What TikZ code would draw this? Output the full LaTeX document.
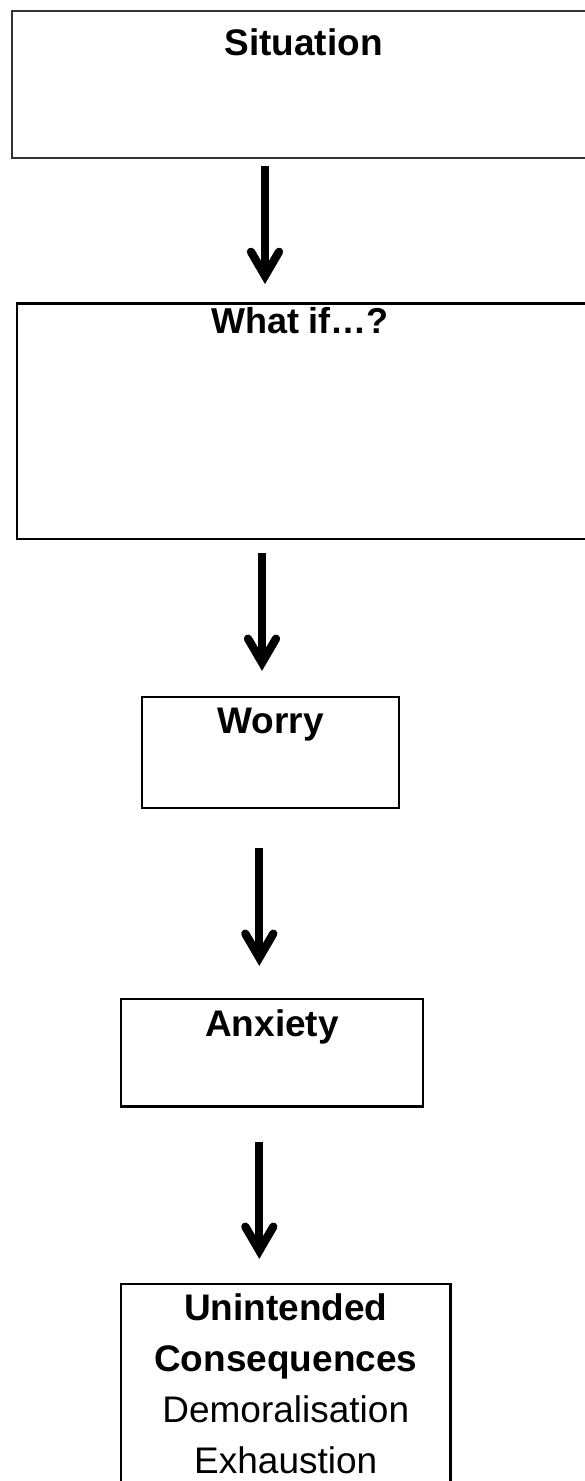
\documentclass[tikz,border=0pt]{standalone}
\usepackage{fontspec}
\setmainfont{Liberation Sans}
\usetikzlibrary{calc}

\tikzset{
  box/.style={draw=black, line width=2.7pt, rectangle, inner sep=0pt},
  topbox/.style={box, draw=black!80, line width=2pt},
  title/.style={font=\fontsize{37}{51}\selectfont\bfseries, anchor=base, inner sep=0pt},
  shaftline/.style={draw=black, line width=8.3pt, line cap=butt},
  chevron/.style={draw=black, line width=8.3pt, line cap=round, line join=miter},
}

% thick downward arrow: straight shaft ending in an open chevron head
\newcommand\flowarrow[2]{%
  \draw[shaftline] (#1) -- (#2);
  \draw[chevron] ($(#2)+(-14,-24)$) -- (#2) -- ($(#2)+(14,-24)$);
}

\begin{document}
\begin{tikzpicture}[x=1pt,y=-1pt]
\useasboundingbox (0,0) rectangle (584,1481);
\fill[white] (0,0) rectangle (584,1481);

% boxes
\node[topbox, minimum width=585pt, minimum height=146.5pt] (s) at (304.5,84.25) {};
\node[box, line width=2.4pt, minimum width=569pt, minimum height=235.5pt] (q) at (301.5,421.25) {};
\node[box, minimum width=257pt, minimum height=111pt] (w) at (270.5,752.5) {};
\node[box, minimum width=302pt, minimum height=107.5pt] (a) at (272,1052.75) {};
\node[box, minimum width=329.5pt, minimum height=236pt] (u) at (285.75,1402) {};

% titles
\node[title] (st) at (303.5,55) {Situation};
\node[title, font=\fontsize{36}{44}\selectfont\bfseries] (qt) at (300,333) {What if…?};
\node[title] (wt) at (270.5,733) {Worry};
\node[title] (at) at (272,1036) {Anxiety};
% base anchor of a multi-line node sits on its last line
\node[title, align=center] (ut) at (285.75,1473)
  {Unintended\\Consequences\\{\mdseries Demoralisation}\\{\mdseries Exhaustion}};

% arrows between the boxes
\flowarrow{$(s.south)+(-39.5,7.5)$}{$(q.north)+(-36.5,-26.5)$}
\flowarrow{$(q.south)+(-39.5,13)$}{$(w.north)+(-8.5,-33)$}
\flowarrow{$(w.south)+(-11.2,39)$}{$(a.north)+(-12.7,-40)$}
\flowarrow{$(a.south)+(-12.7,34.5)$}{$(u.north)+(-26.45,-32)$}
\end{tikzpicture}
\end{document}
